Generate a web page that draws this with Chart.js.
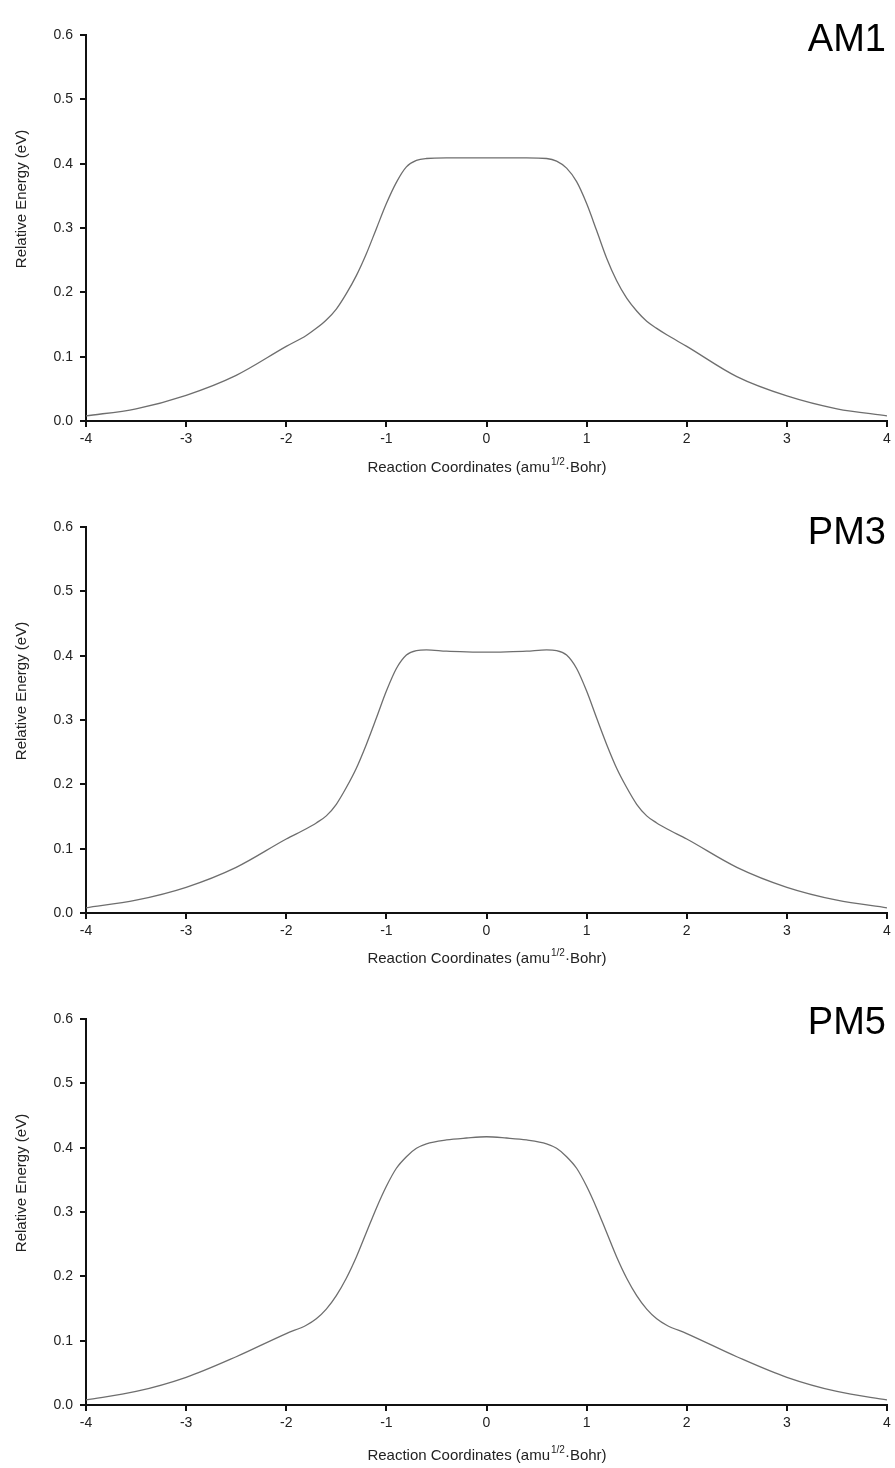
<!DOCTYPE html>
<html>
<head>
<meta charset="utf-8">
<script src="https://cdn.jsdelivr.net/npm/chart.js@4.4.1/dist/chart.umd.min.js"></script>
<style>
  html, body { margin: 0; padding: 0; background: #fff; }
  #wrap { position: relative; width: 895px; height: 1468px; }
  .panel { position: absolute; left: 0; width: 895px; }
</style>
</head>
<body>
<div id="wrap">
  <div class="panel" style="top:0;height:492px"><canvas id="am1"></canvas></div>
  <div class="panel" style="top:492px;height:492px"><canvas id="pm3"></canvas></div>
  <div class="panel" style="top:984px;height:484px"><canvas id="pm5"></canvas></div>
</div>
<script>
// reaction coordinate samples (amu^1/2 Bohr)
const coords = [-4, -3.5, -3, -2.5, -2, -1.8, -1.7, -1.6, -1.5, -1.4, -1.3, -1.2, -1.1, -1, -0.9, -0.8, -0.7, -0.6, -0.4, -0.2,
  0, 0.2, 0.4, 0.6, 0.7, 0.8, 0.9, 1, 1.1, 1.2, 1.3, 1.4, 1.5, 1.6, 1.7, 1.8, 2, 2.5, 3, 3.5, 4];

// relative energies (eV)
const am1 = [0.008, 0.019, 0.040, 0.071, 0.116, 0.133, 0.144, 0.157, 0.174, 0.198, 0.226, 0.260, 0.299, 0.338, 0.371, 0.395, 0.405, 0.408, 0.409, 0.409,
  0.409, 0.409, 0.409, 0.408, 0.404, 0.393, 0.372, 0.338, 0.296, 0.253, 0.218, 0.191, 0.171, 0.155, 0.144, 0.134, 0.116, 0.069, 0.039, 0.019, 0.008];
const pm3 = [0.008, 0.020, 0.040, 0.071, 0.115, 0.131, 0.140, 0.151, 0.169, 0.195, 0.225, 0.262, 0.303, 0.345, 0.380, 0.401, 0.408, 0.409, 0.407, 0.406,
  0.4055, 0.406, 0.407, 0.409, 0.408, 0.401, 0.380, 0.345, 0.303, 0.262, 0.225, 0.195, 0.169, 0.151, 0.140, 0.131, 0.115, 0.071, 0.040, 0.020, 0.008];
const pm5 = [0.008, 0.021, 0.043, 0.075, 0.111, 0.124, 0.134, 0.149, 0.170, 0.197, 0.230, 0.268, 0.306, 0.340, 0.368, 0.386, 0.399, 0.406, 0.412, 0.415,
  0.417, 0.415, 0.412, 0.406, 0.399, 0.386, 0.368, 0.340, 0.306, 0.268, 0.230, 0.197, 0.170, 0.149, 0.134, 0.124, 0.111, 0.075, 0.043, 0.021, 0.008];

const xTicks = [-4, -3, -2, -1, 0, 1, 2, 3, 4];
const yTicks = [0, 0.1, 0.2, 0.3, 0.4, 0.5, 0.6];

const FONT = "'Liberation Sans', Arial, sans-serif";
const INK = '#222';
const AXIS = '#111';

// draws the method name and both axis titles (x title has a superscript 1/2)
const decorPlugin = {
  id: 'decor',
  afterDraw(chart, args, opts) {
    const ctx = chart.ctx;
    const area = chart.chartArea;
    ctx.save();
    ctx.fillStyle = '#000';
    ctx.font = '38px ' + FONT;
    ctx.textAlign = 'right';
    ctx.textBaseline = 'alphabetic';
    ctx.fillText(opts.name, area.right - 1, opts.nameY);

    // y axis title
    ctx.save();
    ctx.translate(22, area.top + 164);
    ctx.rotate(-Math.PI / 2);
    ctx.textAlign = 'center';
    ctx.textBaseline = 'middle';
    ctx.fillStyle = INK;
    ctx.font = '15px ' + FONT;
    ctx.fillText('Relative Energy (eV)', 0, 0);
    ctx.restore();

    // x axis title
    const main1 = 'Reaction Coordinates (amu';
    const sup = '1/2';
    const main2 = '\u00b7Bohr)';
    ctx.font = '15px ' + FONT;
    const w1 = ctx.measureText(main1).width;
    const w3 = ctx.measureText(main2).width;
    ctx.font = '10px ' + FONT;
    const w2 = ctx.measureText(sup).width;
    const cx = (area.left + area.right) / 2;
    let x = cx - (w1 + w2 + w3) / 2;
    const y = area.bottom + opts.titleGap;
    ctx.textAlign = 'left';
    ctx.fillStyle = INK;
    ctx.font = '15px ' + FONT;
    ctx.fillText(main1, x, y);
    x += w1;
    ctx.font = '10px ' + FONT;
    ctx.fillText(sup, x + 1, y - 7);
    x += w2 + 1;
    ctx.font = '15px ' + FONT;
    ctx.fillText(main2, x, y);
    ctx.restore();
  }
};

function makePanel(id, name, values, canvasH, titleGap, nameY) {
  const points = coords.map((c, i) => ({ x: c, y: values[i] }));
  new Chart(document.getElementById(id), {
    type: 'scatter',
    data: {
      datasets: [{
        data: points,
        showLine: true,
        borderColor: '#6e6e6e',
        borderWidth: 1.3,
        pointRadius: 0,
        cubicInterpolationMode: 'monotone'
      }]
    },
    options: {
      responsive: false,
      animation: false,
      events: [],
      layout: { padding: { left: 0, right: 8, top: 35, bottom: 0 } },
      plugins: {
        legend: { display: false },
        tooltip: { enabled: false },
        decor: { name: name, titleGap: titleGap, nameY: nameY }
      },
      scales: {
        x: {
          type: 'linear',
          min: -4,
          max: 4,
          afterBuildTicks: s => { s.ticks = xTicks.map(v => ({ value: v })); },
          afterFit: s => { s.height = canvasH - 421; },
          grid: { drawOnChartArea: false, drawTicks: true, tickLength: 6, color: AXIS, lineWidth: 2 },
          border: { display: true, color: AXIS, width: 2 },
          ticks: {
            color: INK,
            padding: 4,
            maxRotation: 0,
            font: { family: FONT, size: 14 },
            callback: v => String(v)
          }
        },
        y: {
          min: 0,
          max: 0.6,
          afterBuildTicks: s => { s.ticks = yTicks.map(v => ({ value: v })); },
          afterFit: s => { s.width = 86; },
          grid: { drawOnChartArea: false, drawTicks: true, tickLength: 6, color: AXIS, lineWidth: 2 },
          border: { display: true, color: AXIS, width: 2 },
          ticks: {
            color: INK,
            padding: 7,
            font: { family: FONT, size: 14 },
            callback: v => v.toFixed(1)
          }
        }
      }
    },
    plugins: [decorPlugin]
  });
}

function sizeCanvas(id, h) {
  const cv = document.getElementById(id);
  cv.width = 895;
  cv.height = h;
  cv.style.width = '895px';
  cv.style.height = h + 'px';
}

sizeCanvas('am1', 492);
sizeCanvas('pm3', 492);
sizeCanvas('pm5', 484);
makePanel('am1', 'AM1', am1, 492, 51, 51);
makePanel('pm3', 'PM3', pm3, 492, 50, 52);
makePanel('pm5', 'PM5', pm5, 484, 55, 50);
</script>
</body>
</html>
